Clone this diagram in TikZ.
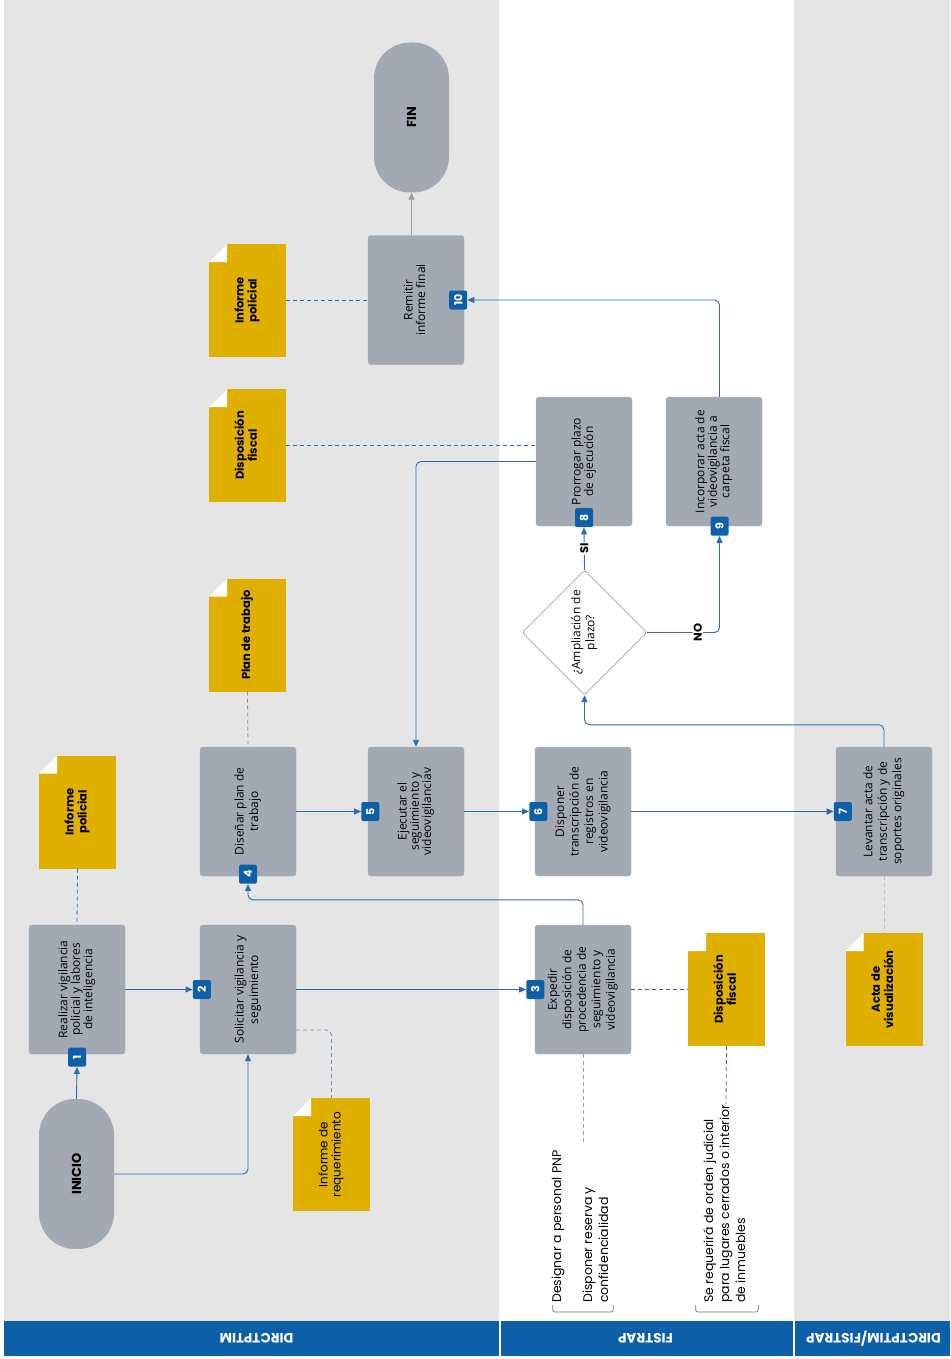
\documentclass[tikz,border=0pt]{standalone}
\usepackage{fontspec}
\setmainfont{Open Sans}
\newfontfamily\labelfont{Poppins}
\usepackage{graphicx}
\usetikzlibrary{calc,positioning,arrows.meta,shapes.geometric}

\definecolor{lanegray}{HTML}{E5E5E5}
\definecolor{boxgray}{HTML}{A3A9B2}
\definecolor{bandblue}{HTML}{0D5FA8}
\definecolor{flowblue}{HTML}{2A6CB3}
\definecolor{steelblue}{HTML}{3D6391}
\definecolor{docyellow}{HTML}{E0B000}
\definecolor{arrowgray}{HTML}{9A9A9A}

\newcommand{\vtext}[2][c]{\rotatebox{90}{\begin{tabular}{@{}#1@{}}#2\end{tabular}}}

\tikzstyle{task}     = [rectangle, rounded corners=3pt, fill=boxgray, draw=boxgray, minimum width=96pt, minimum height=129pt, inner sep=0pt, font=\fontsize{12}{14.5}\selectfont]
\tikzstyle{tight}    = [font=\fontsize{12}{11}\selectfont]
\tikzstyle{terminal} = [rectangle, rounded corners=36pt, fill=boxgray, minimum width=75pt, minimum height=150pt, font=\labelfont\bfseries\fontsize{13}{14}\selectfont]
\tikzstyle{decision} = [diamond, draw=black!55, fill=white, minimum width=125pt, minimum height=125pt, inner sep=0pt, rounded corners=3pt, font=\fontsize{12}{14}\selectfont]
\tikzstyle{num}      = [rectangle, rounded corners=2pt, fill=bandblue, text=white, minimum width=18pt, minimum height=19pt, inner sep=0pt, font=\labelfont\bfseries\fontsize{11}{11}\selectfont]
\tikzstyle{note}     = [inner sep=0pt, font=\labelfont\fontsize{12.5}{16}\selectfont]
\tikzstyle{lanetitle}= [rotate=180, text=white, font=\labelfont\bfseries\fontsize{13.5}{14}\selectfont]
\tikzstyle{lbl}      = [fill=white, inner sep=1pt, font=\labelfont\bfseries\fontsize{11.5}{12}\selectfont]
\tikzstyle{flow}     = [draw=flowblue, line width=0.9pt, -{Triangle[length=7pt,width=6pt]}, rounded corners=5pt]
\tikzstyle{link}     = [draw=flowblue, line width=0.8pt, dash pattern=on 4pt off 3pt, rounded corners=5pt]
\tikzstyle{bracket}  = [draw=black!55, line width=0.7pt, rounded corners=2pt]
\tikzset{
	docnote/.style={rectangle, fill=docyellow, minimum width=77pt, minimum height=113pt, inner sep=0pt,
		font=\labelfont\bfseries\fontsize{11.5}{12.5}\selectfont,
		path picture={
			\fill[#1] (path picture bounding box.north west) -- ++(18pt,0pt) -- ++(-18pt,-18pt) -- cycle;
			\fill[white] ($(path picture bounding box.north west)+(18pt,0pt)$) -- ++(0pt,-18pt) -- ++(-18pt,0pt) -- cycle;
		}},
	docnote/.default=lanegray,
	plain/.style={font=\labelfont\fontsize{12}{13}\selectfont},
}

\begin{document}
\begin{tikzpicture}[x=1pt, y=-1pt]
	\useasboundingbox (0,0) rectangle (950,1359);
	% swimlanes
	\fill[lanegray] (4,0) rectangle (499,1321);
	\fill[lanegray] (794,0) rectangle (950,1321);
	\fill[bandblue] (4,1321) rectangle (499,1356);
	\fill[bandblue] (501,1321) rectangle (793,1356);
	\fill[bandblue] (795,1321) rectangle (950,1356);
	\node[lanetitle] (lane1) at (256.5,1338.5) {DIRCTPTIM};
	\node[lanetitle] (lane2) at (645.5,1338.5) {FISTRAP};
	\node[lanetitle] (lane3) at (873.5,1338.5) {DIRCTPTIM/FISTRAP};

	\node[terminal] (inicio) at (76.5,1174) {\rotatebox{90}{INICIO}};
	\node[terminal] (fin) at (411.5,117.5) {\rotatebox{90}{FIN}};

	\node[task, tight] (t1) at (77,989.5) {\vtext{Realizar vigilancia\\policial y labores\\de inteligencia}};
	\node[task] (t2) at (248,989.5) {\vtext{Solicitar vigilancia y\\seguimiento}};
	\node[task] (t3) at (583,989.5) {\vtext{Expedir\\disposición de\\procedencia de\\seguimiento y\\videovigilancia}};
	\node[task] (t4) at (248,811.5) {\vtext{Diseñar plan de\\trabajo}};
	\node[task, tight] (t5) at (416,811.5) {\vtext{Ejecutar el\\seguimiento y\\videovigilanciav}};
	\node[task] (t6) at (583,811.5) {\vtext{Disponer\\transcripción de\\registros en\\videovigilancia}};
	\node[task] (t7) at (884,811.5) {\vtext{Levantar acta de\\transcripción y de\\soportes originales}};
	\node[task, tight] (t8) at (584,461.5) {\vtext{Prorrogar plazo\\de ejecución}};
	\node[task, tight] (t9) at (714,461.5) {\vtext{Incorporar acta de\\videovigilancia a\\carpeta fiscal}};
	\node[task, tight] (t10) at (416,300) {\vtext{Remitir\\informe final}};
	\node[decision] (q) at (584.5,632.5) {\vtext{¿Ampliación de\\plazo?}};

	\node[num] (n1) at ([yshift=-3pt]t1.south) {\rotatebox{90}{1}};
	\node[num] (n2) at ([xshift=2pt]t2.west) {\rotatebox{90}{2}};
	\node[num] (n3) at ([xshift=0.5pt]t3.west) {\rotatebox{90}{3}};
	\node[num] (n4) at ([yshift=2pt]t4.south) {\rotatebox{90}{4}};
	\node[num] (n5) at ([xshift=2.5pt]t5.west) {\rotatebox{90}{5}};
	\node[num] (n6) at ([xshift=3.5pt]t6.west) {\rotatebox{90}{6}};
	\node[num] (n7) at ([xshift=7pt]t7.west) {\rotatebox{90}{7}};
	\node[num] (n8) at ([yshift=8.5pt]t8.south) {\rotatebox{90}{8}};
	\node[num] (n9) at ([xshift=5.5pt]t9.south) {\rotatebox{90}{9}};
	\node[num] (n10) at ([xshift=-6pt]t10.east) {\rotatebox{90}{10}};

	\node[docnote] (dpol1) at (77.5,812) {\vtext{Informe\\policial}};
	\node[docnote, plain] (dreq) at (331.5,1154.5) {\vtext{Informe de\\requerimiento}};
	\node[docnote] (dplan) at (247.5,635) {\vtext{Plan de trabajo}};
	\node[docnote] (dfis1) at (247.5,445.5) {\vtext{Disposición\\fiscal}};
	\node[docnote] (dpol2) at (247.5,300.5) {\vtext{Informe\\policial}};
	\node[docnote=white] (dfis2) at (726.5,989.5) {\vtext{Disposición\\fiscal}};
	\node[docnote] (dacta) at (884,989.5) {\vtext{Acta de\\visualización}};

	\node[note, anchor=south] (desig) at (558,1303) {\vtext[l]{Designar a personal PNP}};
	\node[note, anchor=south] (reserva) at (597,1303) {\vtext[l]{Disponer reserva y\\confidencialidad}};
	\node[note, anchor=south] (orden) at (726,1303) {\vtext[l]{Se requerirá de orden judicial\\para lugares cerrados o interior\\de inmuebles}};
	\coordinate (pnpend) at (583,1142);
	\coordinate (ordenend) at (726,1104);

	\draw[flow] (inicio.north) -- (n1.south);
	\draw[flow] (inicio.east) -| (t2.south);
	\draw[flow] (t1.east) -- (n2.west);
	\draw[flow] (t2.east) -- (n3.west);
	\draw[flow] (t3.north) -- ++(0,-25) -| (n4.south);
	\draw[flow] (t4.east) -- (n5.west);
	\draw[flow] (t5.east) -- (n6.west);
	\draw[flow, draw=steelblue, line width=1.6pt] (t6.east) -- (n7.west);
	\draw[flow] (t7.north) -- ++(0,-22) -| (q.south);
	\draw[flow] (q.north) -- node[lbl] {\rotatebox{90}{SI}} (n8.south);
	\draw[flow] (q.east) -| node[lbl, pos=0.35] {\rotatebox{90}{NO}} (n9.south);
	\draw[flow] (t8.west) -| (t5.north);
	\draw[flow] (n9 |- t9.north) |- (n10.east);
	\draw[flow, draw=arrowgray] (fin.south |- t10.north) -- (fin.south);

	\draw[link] (dpol1.south) -- (t1.north);
	\draw[link, draw=flowblue!70] ([yshift=-40.5pt]t2.east) -| (dreq.north);
	\draw[link, draw=black!45] (dplan.south) -- (t4.north);
	\draw[link] (dfis1.east) -- (t8.west |- dfis1.east);
	\draw[link] (dpol2.east) -- (t10.west |- dpol2.east);
	\draw[link, draw=steelblue] (t3.east) -- (dfis2.west);
	\draw[link, draw=black!25] (t7.south) -- (dacta.north);
	\draw[link, draw=flowblue!60] (t3.south) -- (pnpend);
	\draw[link] (dfis2.south) -- (ordenend);

	\draw[bracket] ([xshift=3pt,yshift=-2pt]desig.south west) -- ([xshift=3pt,yshift=-9pt]desig.south west) -- ([yshift=-9pt]reserva.south east) -- ([yshift=-2pt]reserva.south east);
	\draw[bracket] ([xshift=-6pt,yshift=-2pt]orden.south west) -- ([xshift=-6pt,yshift=-9pt]orden.south west) -- ([xshift=8pt,yshift=-9pt]orden.south east) -- ([xshift=8pt,yshift=-2pt]orden.south east);
\end{tikzpicture}
\end{document}
